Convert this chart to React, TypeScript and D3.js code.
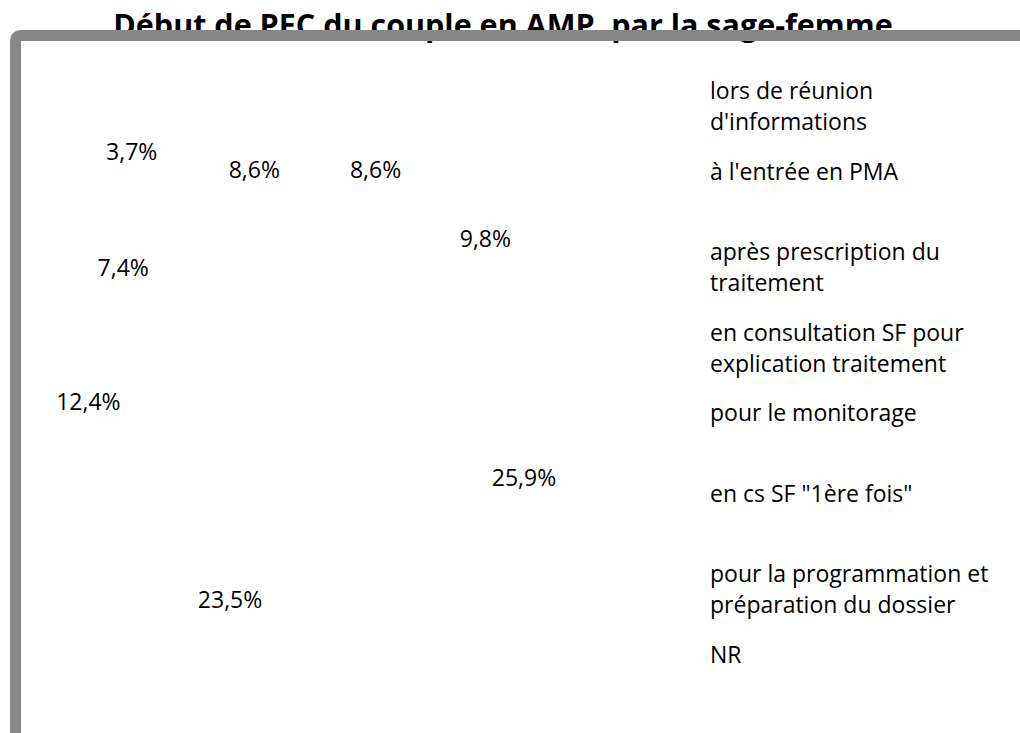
import React from "react";
import * as d3 from "d3";

const title = "Début de PEC du couple en AMP, par la sage-femme";
const categories = [
  ["lors de réunion", "d'informations"],
  ["à l'entrée en PMA"],
  ["après prescription du", "traitement"],
  ["en consultation SF pour", "explication traitement"],
  ["pour le monitorage"],
  ["en cs SF \"1ère fois\""],
  ["pour la programmation et", "préparation du dossier"],
  ["NR"],
];
const values = [8.6, 8.6, 9.8, 25.9, 23.5, 12.4, 7.4, 3.7];
const valueLabels = ["8,6%", "8,6%", "9,8%", "25,9%", "23,5%", "12,4%", "7,4%", "3,7%"];

const W = 1020;
const H = 733;
const FONT = "'Open Sans', 'Noto Sans', sans-serif";

export default function App() {
  const cx = 315;
  const cy = 389;
  const outerR = 300;
  const labelR = 227;
  const outsideR = 300;
  const start = (-31 * Math.PI) / 180;

  const pie = d3
    .pie<number>()
    .sort(null)
    .value((d) => d)
    .startAngle(start)
    .endAngle(start + 2 * Math.PI);
  const arcs = pie(values);
  const arcGen = d3.arc<d3.PieArcDatum<number>>().innerRadius(0).outerRadius(outerR);
  const labelArc = d3.arc<d3.PieArcDatum<number>>().innerRadius(labelR).outerRadius(labelR);
  const outArc = d3.arc<d3.PieArcDatum<number>>().innerRadius(outsideR).outerRadius(outsideR);

  const legendY = d3.scaleLinear().domain([0, categories.length - 1]).range([91, 655]);
  const lineH = 31;
  const fs = 23;

  return (
    <svg
      width={W}
      height={H}
      style={{ position: "absolute", left: 0, top: 0, background: "#fff" }}
    >
      <rect x={0} y={0} width={W} height={H} fill="#fff" />
      <g transform={`translate(${cx},${cy})`}>
        {arcs.map((a, i) => (
          <path key={i} d={arcGen(a) || ""} fill="#fff" stroke="none" />
        ))}
        {arcs.map((a, i) => {
          const small = a.endAngle - a.startAngle < 0.3;
          const [x, y] = (small ? outArc : labelArc).centroid(a);
          return (
            <text
              key={i}
              x={x}
              y={y + 0.357 * fs}
              textAnchor="middle"
              fontFamily={FONT}
              fontSize={fs}
              fill="#000"
            >
              {valueLabels[i]}
            </text>
          );
        })}
      </g>
      {categories.map((lines, i) => (
        <text key={i} fontFamily={FONT} fontSize={fs} fill="#000">
          {lines.map((ln, j) => (
            <tspan key={j} x={710} y={legendY(i) + j * lineH + 8}>
              {ln}
            </tspan>
          ))}
        </text>
      ))}
      <text
        x={503}
        y={36}
        textAnchor="middle"
        fontFamily={FONT}
        fontWeight="bold"
        fontSize={30.5}
        fill="#000"
      >
        {title}
      </text>
      <rect
        x={15.5}
        y={35.5}
        width={W + 40}
        height={H + 40}
        rx={5}
        fill="none"
        stroke="#878787"
        strokeWidth={11}
      />
    </svg>
  );
}
